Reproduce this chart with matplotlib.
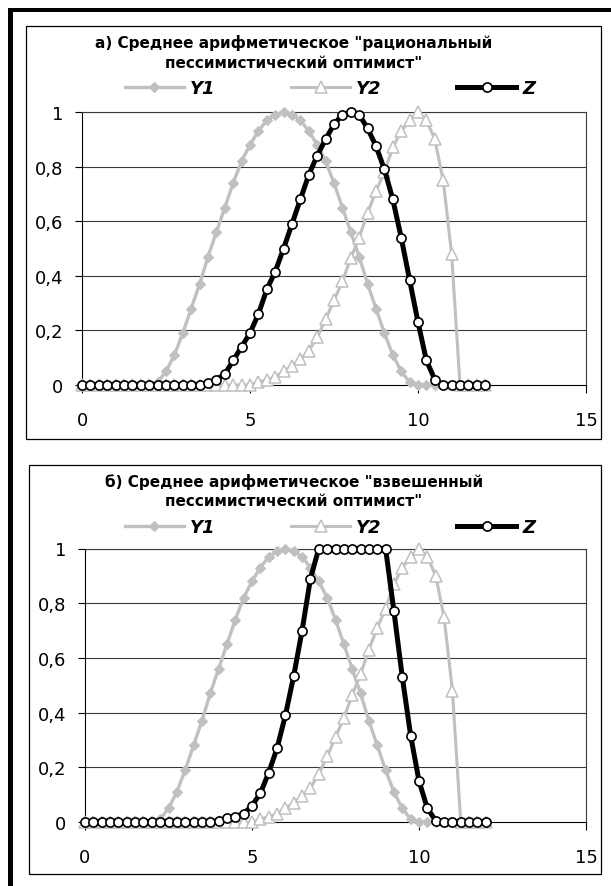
import matplotlib
matplotlib.use("Agg")
import matplotlib.pyplot as plt
from matplotlib.patches import Rectangle

# ---------------- data ----------------
X = [0, 0.25, 0.5, 0.75, 1, 1.25, 1.5, 1.75, 2, 2.25, 2.5, 2.75, 3, 3.25, 3.5, 3.75,
     4, 4.25, 4.5, 4.75, 5, 5.25, 5.5, 5.75, 6, 6.25, 6.5, 6.75, 7, 7.25, 7.5, 7.75,
     8, 8.25, 8.5, 8.75, 9, 9.25, 9.5, 9.75, 10, 10.25, 10.5, 10.75, 11, 11.25, 11.5,
     11.75, 12]

Y1 = [0, 0, 0, 0, 0, 0, 0, 0, 0, 0.01, 0.05, 0.11, 0.19, 0.28, 0.37, 0.47,
      0.56, 0.65, 0.74, 0.82, 0.88, 0.93, 0.97, 0.99, 1.0, 0.99, 0.97, 0.93, 0.88, 0.82, 0.74, 0.65,
      0.56, 0.47, 0.37, 0.28, 0.19, 0.11, 0.05, 0.01, 0, 0, 0, 0, 0, 0, 0,
      0, 0]

Y2 = [0, 0, 0, 0, 0, 0, 0, 0, 0, 0, 0, 0, 0, 0, 0, 0,
      0, 0, 0, 0, 0, 0.01, 0.02, 0.03, 0.05, 0.07, 0.095, 0.125, 0.175, 0.24, 0.31, 0.38,
      0.465, 0.54, 0.63, 0.71, 0.78, 0.87, 0.93, 0.97, 1.0, 0.97, 0.90, 0.75, 0.48, 0, 0,
      0, 0]

Z_A = [0, 0, 0, 0, 0, 0, 0, 0, 0, 0, 0, 0, 0, 0, 0, 0.007,
       0.02, 0.04, 0.09, 0.14, 0.19, 0.26, 0.35, 0.415, 0.50, 0.59, 0.68, 0.77, 0.84, 0.90, 0.955, 0.99,
       1.0, 0.99, 0.94, 0.875, 0.79, 0.68, 0.54, 0.385, 0.23, 0.09, 0.02, 0, 0, 0, 0,
       0, 0]

Z_B = [0, 0, 0, 0, 0, 0, 0, 0, 0, 0, 0, 0, 0, 0, 0, 0,
       0.005, 0.013, 0.02, 0.03, 0.06, 0.105, 0.18, 0.27, 0.39, 0.535, 0.70, 0.89, 1.0, 1.0, 1.0, 1.0,
       1.0, 1.0, 1.0, 1.0, 1.0, 0.77, 0.53, 0.316, 0.15, 0.05, 0.005, 0, 0, 0, 0,
       0, 0]

SERIES_NAMES = ["Y1", "Y2", "Z"]
TITLES_A = ['а) Среднее арифметическое "рациональный', 'пессимистический оптимист"']
TITLES_B = ['б) Среднее арифметическое "взвешенный', 'пессимистический оптимист"']
XTICKS = [0, 5, 10, 15]
XTICK_LABELS = ["0", "5", "10", "15"]
YTICKS = [0, 0.2, 0.4, 0.6, 0.8, 1.0]
YTICK_LABELS = ["0", "0,2", "0,4", "0,6", "0,8", "1"]

# ---------------- layout ----------------
W, H = 611, 887
DPI = 100
plt.rcParams['font.family'] = ['DejaVu Sans']

fig = plt.figure(figsize=(W / DPI, H / DPI), dpi=DPI)
fig.patch.set_facecolor("white")


def fx(px):
    return px / W


def fy(py):
    return 1 - py / H


def rect(x0, y0, x1, y1, **kw):
    r = Rectangle((fx(x0), fy(y1)), fx(x1) - fx(x0), fy(y0) - fy(y1),
                  transform=fig.transFigure, **kw)
    fig.add_artist(r)


GREY = "#C0C0C0"

# outer thick borders (top and left)
rect(8, 9.3, 611, 12.8, facecolor="black", edgecolor="none")
rect(8, 9.3, 12.8, 887, facecolor="black", edgecolor="none")

# chart frames
rect(26.5, 26.7, 600.5, 440, facecolor="none", edgecolor="black", linewidth=0.9)
rect(29, 466, 600.5, 875, facecolor="none", edgecolor="black", linewidth=0.9)


def make_panel(plot_box, z, titles, title_y, legend_y):
    left, top, right, bottom = plot_box
    ax = fig.add_axes([fx(left), fy(bottom), fx(right) - fx(left), fy(top) - fy(bottom)])
    ax.set_xlim(0, 15)
    ax.set_ylim(0, 1)
    ax.set_facecolor("none")

    for y in YTICKS[1:]:
        ax.axhline(y, color="#3a3a3a", linewidth=0.8, zorder=1)

    l1, = ax.plot(X, Y1, color=GREY, linewidth=2.4, marker="D", markersize=5.0,
                  markerfacecolor=GREY, markeredgecolor=GREY, markeredgewidth=0.8,
                  clip_on=False, zorder=3, label=SERIES_NAMES[0])
    l2, = ax.plot(X, Y2, color=GREY, linewidth=2.2, marker="^", markersize=9.2,
                  markerfacecolor="white", markeredgecolor=GREY, markeredgewidth=1.1,
                  clip_on=False, zorder=4, label=SERIES_NAMES[1])
    l3, = ax.plot(X, z, color="black", linewidth=3.6, marker="o", markersize=6.6,
                  markerfacecolor="white", markeredgecolor="black", markeredgewidth=1.2,
                  clip_on=False, zorder=5, label=SERIES_NAMES[2])

    for s in ax.spines.values():
        s.set_color("black")
        s.set_linewidth(0.8)
    ax.spines["top"].set_color("#3a3a3a")
    ax.spines["right"].set_color("#3a3a3a")

    ax.set_xticks(XTICKS)
    ax.set_xticklabels(XTICK_LABELS)
    ax.set_yticks(YTICKS)
    ax.set_yticklabels(YTICK_LABELS)
    ax.tick_params(axis="x", direction="out", length=5.8, width=0.8, pad=13.2,
                   labelsize=13, colors="black")
    ax.tick_params(axis="y", direction="out", length=5.0, width=0.8, pad=8.4,
                   labelsize=13, colors="black")

    fig.text(fx(294), fy(title_y[0]), titles[0], ha="center", va="center",
             fontsize=11, fontweight="bold")
    fig.text(fx(294), fy(title_y[1]), titles[1], ha="center", va="center",
             fontsize=11, fontweight="bold")

    ax.legend(handles=[l1, l2, l3], loc="center",
              bbox_to_anchor=(fx(330), fy(legend_y)), bbox_transform=fig.transFigure,
              ncol=3, frameon=False, numpoints=1,
              handlelength=3.27, handletextpad=0.33, columnspacing=4.2,
              borderpad=0, borderaxespad=0,
              prop={"family": "DejaVu Sans", "weight": "bold", "style": "italic", "size": 13})
    return ax


make_panel((82, 113, 586, 386), Z_A, TITLES_A, (43.3, 63.3), 89.3)
make_panel((85, 549.5, 586, 823), Z_B, TITLES_B, (481.7, 501.7), 528.3)

fig.savefig("out.png", dpi=DPI, facecolor="white")
